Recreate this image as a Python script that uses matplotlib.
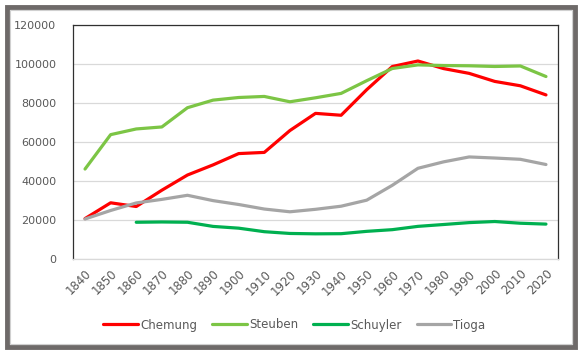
import matplotlib
matplotlib.use("Agg")
import matplotlib.pyplot as plt
from matplotlib.patches import Rectangle

years = list(range(1840, 2030, 10))
chemung = [20732, 28821, 26917, 35281, 43065, 48265, 54063, 54662, 65872, 74680,
           73718, 86827, 98706, 101537, 97656, 95195, 91070, 88830, 84148]
steuben = [46138, 63771, 66690, 67717, 77586, 81473, 82822, 83362, 80627, 82671,
           84927, 91439, 97691, 99546, 99217, 99088, 98726, 98990, 93584]
schuyler_years = years[2:]
schuyler = [18840, 18989, 18842, 16711, 15811, 14004, 13098, 12909, 12979,
            14182, 15044, 16737, 17686, 18662, 19224, 18343, 17898]
tioga = [20527, 24880, 28748, 30572, 32673, 29935, 27951, 25624, 24212, 25480,
         27072, 30166, 37802, 46513, 49812, 52337, 51784, 51125, 48455]

text_col = "#595959"
fig = plt.figure(figsize=(5.83, 3.55), dpi=100)
ax = fig.add_axes([73 / 583, 1 - 259 / 355, (558 - 73) / 583, (259 - 25) / 355])

lw = 2.3
ax.plot(years, chemung, color="#FF0000", lw=lw, label="Chemung", solid_capstyle="round")
ax.plot(years, steuben, color="#7CC545", lw=lw, label="Steuben", solid_capstyle="round")
ax.plot(schuyler_years, schuyler, color="#00B050", lw=lw, label="Schuyler", solid_capstyle="round")
ax.plot(years, tioga, color="#A5A5A5", lw=lw, label="Tioga", solid_capstyle="round")

ax.set_xlim(1835.3, 2024.7)
ax.set_ylim(0, 120000)
ax.set_yticks(range(0, 120001, 20000))
ax.set_xticks(years)
ax.set_xticklabels([str(y) for y in years], rotation=45, ha="right",
                   rotation_mode="anchor")
ax.tick_params(axis="both", length=0, colors=text_col)
ax.tick_params(axis="x", pad=6, labelsize=8.5)
ax.tick_params(axis="y", pad=12, labelsize=8)
ax.grid(axis="y", color="#D9D9D9", lw=0.9)
ax.set_axisbelow(True)
for s in ["left", "top", "right"]:
    ax.spines[s].set_color("#303030")
    ax.spines[s].set_linewidth(0.9)
ax.spines["bottom"].set_color("#D9D9D9")
ax.spines["bottom"].set_linewidth(0.9)

leg = fig.legend(loc="center", bbox_to_anchor=(0.505, 1 - 325 / 355), ncol=4,
                 frameon=False, fontsize=8.5, handlelength=2.9, handletextpad=0.2,
                 columnspacing=1.3)
for t in leg.get_texts():
    t.set_color(text_col)

# outer frame
fig.patches.append(Rectangle((6.5 / 583, 1 - 347 / 355), 568 / 583, 340 / 355,
                             transform=fig.transFigure, fill=False,
                             edgecolor="#6E6A69", lw=3.5))
fig.patches.append(Rectangle((9.5 / 583, 1 - 344 / 355), 562 / 583, 334 / 355,
                             transform=fig.transFigure, fill=False,
                             edgecolor="#D0D0D0", lw=0.8))

fig.savefig("out.png", dpi=100)
